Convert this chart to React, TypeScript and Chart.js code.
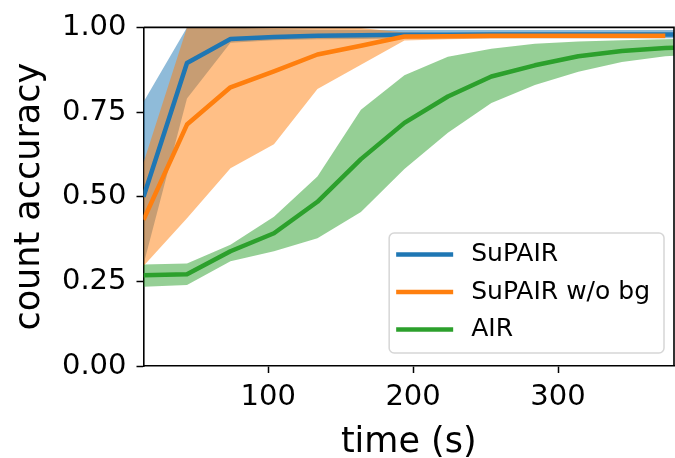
import React, { useEffect, useRef } from "react";
import { Chart, registerables } from "chart.js";

Chart.register(...registerables);

// ---- data ----
const timesLong = [14, 44, 74, 104, 134, 164, 194, 224, 254, 284, 314, 344, 374, 404];
const timesShort = [14, 44, 74, 104, 134, 164, 194, 224, 254, 284, 314, 344, 374];

const supairMean = [0.5, 0.895, 0.966, 0.972, 0.975, 0.977, 0.978, 0.978, 0.979, 0.979, 0.979, 0.979, 0.979, 0.979];
const supairUpper = [0.78, 1.0, 1.0, 0.995, 0.993, 0.992, 0.992, 0.992, 0.992, 0.992, 0.992, 0.992, 0.992, 0.992];
const supairLower = [0.3, 0.79, 0.955, 0.962, 0.965, 0.966, 0.967, 0.968, 0.968, 0.968, 0.968, 0.968, 0.968, 0.968];

const noBgMean = [0.432, 0.713, 0.823, 0.87, 0.92, 0.946, 0.973, 0.974, 0.975, 0.975, 0.975, 0.975, 0.975];
const noBgUpper = [0.6, 1.0, 1.0, 1.0, 1.0, 0.998, 0.985, 0.983, 0.982, 0.982, 0.982, 0.982, 0.982];
const noBgLower = [0.295, 0.436, 0.584, 0.655, 0.818, 0.89, 0.961, 0.965, 0.967, 0.968, 0.968, 0.968, 0.968];

const airMean = [0.268, 0.271, 0.339, 0.392, 0.485, 0.611, 0.718, 0.796, 0.855, 0.888, 0.915, 0.93, 0.939, 0.945];
const airUpper = [0.3, 0.303, 0.358, 0.441, 0.56, 0.757, 0.859, 0.913, 0.937, 0.952, 0.958, 0.962, 0.965, 0.967];
const airLower = [0.234, 0.239, 0.309, 0.339, 0.377, 0.455, 0.582, 0.689, 0.777, 0.83, 0.869, 0.898, 0.915, 0.922];

const seriesLabels = ["SuPAIR", "SuPAIR w/o bg", "AIR"];
const seriesColors = ["#1f77b4", "#ff7f0e", "#2ca02c"];
const bandColors = ["rgba(31,119,180,0.5)", "rgba(255,127,14,0.5)", "rgba(44,160,44,0.5)"];

const xTicks = [100, 200, 300];
const yTicks = [0, 0.25, 0.5, 0.75, 1.0];
const xRange = [14, 380];
const yRange = [0, 1];

const FONT = '"DejaVu Sans", "Liberation Sans", sans-serif';

const toXY = (xs: number[], ys: number[]) => ys.map((y, i) => ({ x: xs[i], y }));

const spinePlugin = {
  id: "spines",
  afterDraw(chart: any) {
    const { ctx, chartArea } = chart;
    ctx.save();
    ctx.strokeStyle = "#000";
    ctx.lineWidth = 1.6;
    ctx.beginPath();
    ctx.moveTo(chartArea.left, chartArea.top);
    ctx.lineTo(chartArea.right, chartArea.top);
    ctx.lineTo(chartArea.right, chartArea.bottom);
    ctx.stroke();
    ctx.restore();
  },
};

const legendPlugin = {
  id: "mplLegend",
  afterDraw(chart: any) {
    const { ctx, chartArea } = chart;
    ctx.save();
    const fontSize = 25;
    ctx.font = `${fontSize}px ${FONT}`;
    const textW = Math.max(...seriesLabels.map((l) => ctx.measureText(l).width));
    const handleLen = 57;
    const padL = 7;
    const gap = 18;
    const padR = 14;
    const rowH = 37.5;
    const boxW = padL + handleLen + gap + textW + padR;
    const boxH = 120;
    const boxX = chartArea.right - 10 - boxW;
    const boxY = chartArea.bottom - 13 - boxH;
    ctx.beginPath();
    if ((ctx as any).roundRect) (ctx as any).roundRect(boxX, boxY, boxW, boxH, 5);
    else ctx.rect(boxX, boxY, boxW, boxH);
    ctx.fillStyle = "rgba(255,255,255,0.8)";
    ctx.fill();
    ctx.strokeStyle = "rgba(204,204,204,0.8)";
    ctx.lineWidth = 1.5;
    ctx.stroke();
    seriesLabels.forEach((label, i) => {
      const cy = boxY + 21.5 + i * rowH;
      ctx.beginPath();
      ctx.strokeStyle = seriesColors[i];
      ctx.lineWidth = 4.5;
      ctx.lineCap = "butt";
      ctx.moveTo(boxX + padL, cy);
      ctx.lineTo(boxX + padL + handleLen, cy);
      ctx.stroke();
      ctx.fillStyle = "#000";
      ctx.textBaseline = "middle";
      ctx.textAlign = "left";
      ctx.fillText(label, boxX + padL + handleLen + gap, cy);
    });
    ctx.restore();
  },
};

export default function App() {
  const canvasRef = useRef<HTMLCanvasElement | null>(null);

  useEffect(() => {
    document.body.style.margin = "0";
    const canvas = canvasRef.current;
    if (!canvas) return;
    Chart.defaults.font.family = FONT;

    const band = (upper: number[], lower: number[], xs: number[], color: string, idx: number, order: number) => [
      {
        label: "upper" + idx,
        data: toXY(xs, upper),
        borderWidth: 0,
        pointRadius: 0,
        backgroundColor: color,
        fill: "+1",
        order,
      },
      {
        label: "lower" + idx,
        data: toXY(xs, lower),
        borderWidth: 0,
        pointRadius: 0,
        backgroundColor: "transparent",
        fill: false,
        order,
      },
    ];

    const line = (vals: number[], xs: number[], i: number, order: number) => ({
      label: seriesLabels[i],
      data: toXY(xs, vals),
      borderColor: seriesColors[i],
      borderWidth: 4.5,
      pointRadius: 0,
      fill: false,
      tension: 0,
      order,
    });

    const chart = new Chart(canvas, {
      type: "line",
      data: {
        datasets: [
          ...band(supairUpper, supairLower, timesLong, bandColors[0], 0, 30),
          ...band(noBgUpper, noBgLower, timesShort, bandColors[1], 1, 20),
          ...band(airUpper, airLower, timesLong, bandColors[2], 2, 10),
          line(supairMean, timesLong, 0, 3),
          line(noBgMean, timesShort, 1, 2),
          line(airMean, timesLong, 2, 1),
        ] as any,
      },
      options: {
        animation: false,
        responsive: false,
        devicePixelRatio: 1,
        layout: { padding: { left: 0, top: 23.5, right: 1, bottom: 0 } },
        plugins: { legend: { display: false }, tooltip: { enabled: false } },
        elements: { line: { borderJoinStyle: "round", borderCapStyle: "butt" } },
        scales: {
          x: {
            type: "linear",
            min: xRange[0],
            max: xRange[1],
            afterBuildTicks: (s: any) => {
              s.ticks = xTicks.map((v) => ({ value: v }));
            },
            afterFit: (s: any) => {
              s.height = 92;
            },
            grid: { display: true, drawOnChartArea: false, drawTicks: true, tickLength: 7, tickWidth: 1.5, tickColor: "#000" },
            border: { display: true, color: "#000", width: 1.6 },
            ticks: { color: "#000", font: { size: 29, family: FONT }, padding: 7, maxRotation: 0, autoSkip: false },
            title: {
              display: true,
              text: "time (s)",
              color: "#000",
              font: { size: 35, family: FONT, lineHeight: 0.8 },
              padding: { top: 0, bottom: 1.5 },
            },
          },
          y: {
            type: "linear",
            min: yRange[0],
            max: yRange[1],
            afterBuildTicks: (s: any) => {
              s.ticks = yTicks.map((v) => ({ value: v }));
            },
            afterFit: (s: any) => {
              s.width = 143.5;
            },
            grid: { display: true, drawOnChartArea: false, drawTicks: true, tickLength: 7, tickWidth: 1.5, tickColor: "#000" },
            border: { display: true, color: "#000", width: 1.6 },
            ticks: {
              color: "#000",
              font: { size: 29, family: FONT },
              padding: 10,
              autoSkip: false,
              callback: (v: any) => Number(v).toFixed(2),
            },
            title: {
              display: true,
              text: "count accuracy",
              color: "#000",
              font: { size: 35, family: FONT },
              padding: { top: 9, bottom: 0 },
            },
          },
        },
      },
      plugins: [spinePlugin, legendPlugin],
    });

    return () => chart.destroy();
  }, []);

  return (
    <div style={{ position: "absolute", left: 0, top: 0, width: 675, height: 458 }}>
      <canvas ref={canvasRef} width={675} height={458} style={{ display: "block" }} />
    </div>
  );
}
